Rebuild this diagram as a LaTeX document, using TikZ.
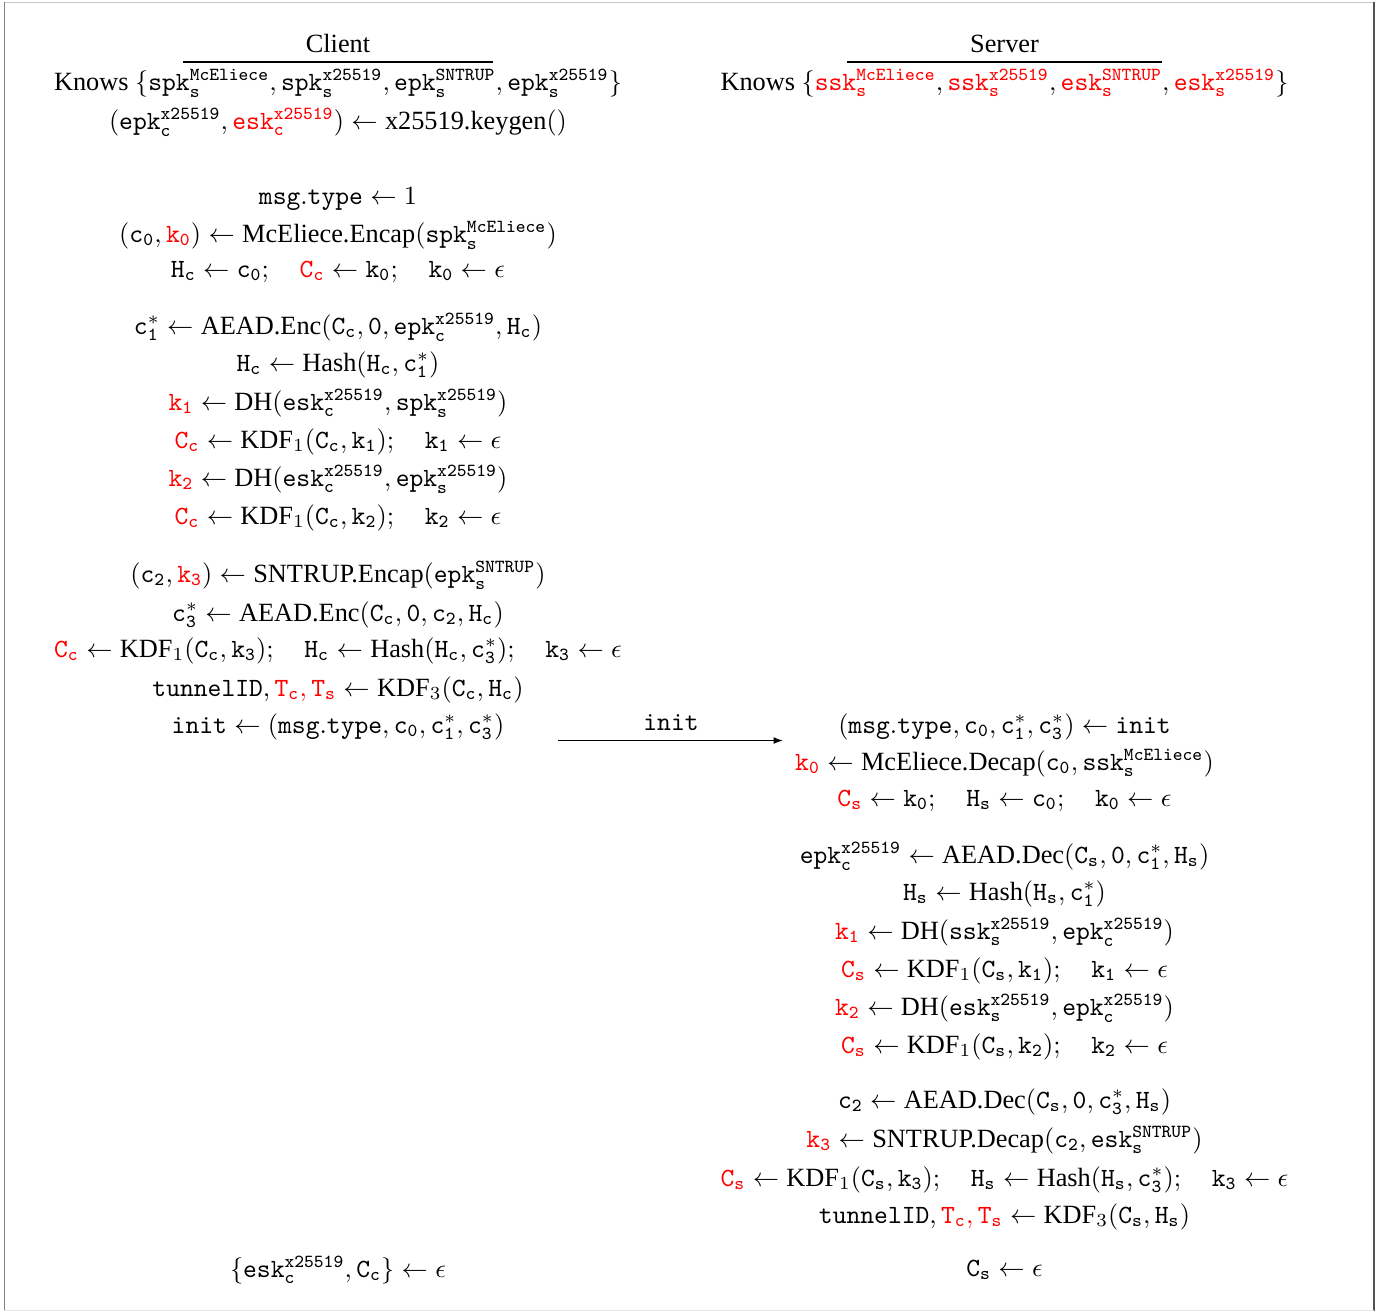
\documentclass[tikz,border=0pt]{standalone}
\usepackage{amsmath}
\usepackage{fontspec}
\setmainfont{Liberation Serif}
\usetikzlibrary{arrows.meta}
\newcommand{\tv}[1]{\mathtt{#1}}
\newcommand{\rd}[1]{\textcolor{red}{#1}}
\newcommand{\lar}{\leftarrow}
\tikzset{
  ln/.style={anchor=base, inner sep=0pt, outer sep=0pt},
  hdrule/.style={line width=0.45pt, black},
  msgarrow/.style={line width=0.45pt, -{Latex[length=3.6pt,width=2.6pt]}},
}
\begin{document}
\begin{tikzpicture}[x=0.38pt,y=-0.38pt]
\useasboundingbox (0,0) rectangle (1390,1311);
% page frame
\draw[line width=0.5pt, color=black!22] (4,2.3) -- (1374,2.3);
\draw[line width=0.6pt, color=black!50] (4.3,2) -- (4.3,1311);
\draw[line width=0.8pt, color=black!68] (1374,2) -- (1374,1311);
\draw[line width=0.4pt, color=black!10] (4,1310) -- (1374,1310);

% headers
\node[ln] (chead) at (338,52) {Client};
\node[ln] (shead) at (1004.5,52) {Server};
\coordinate (cr1) at (183,62); \coordinate (cr2) at (493,62);
\coordinate (sr1) at (847,62); \coordinate (sr2) at (1162,62);
\draw[hdrule] (cr1) -- (cr2);
\draw[hdrule] (sr1) -- (sr2);

% client column
\node[ln] (c1) at (338,90) {Knows $\{\tv{spk}_\tv{s}^\tv{McEliece}, \tv{spk}_\tv{s}^\tv{x25519}, \tv{epk}_\tv{s}^\tv{SNTRUP}, \tv{epk}_\tv{s}^\tv{x25519}\}$};
\node[ln] (c2) at (338,129) {$(\tv{epk}_\tv{c}^\tv{x25519}, \rd{\tv{esk}_\tv{c}^\tv{x25519}}) \lar \text{x25519.keygen}()$};
\node[ln] (c3) at (338,204) {$\tv{msg.type} \lar 1$};
\node[ln] (c4) at (338,242) {$(\tv{c}_\tv{0}, \rd{\tv{k}_\tv{0}}) \lar \text{McEliece.Encap}(\tv{spk}_\tv{s}^\tv{McEliece})$};
\node[ln] (c5) at (338,277) {$\tv{H}_\tv{c} \lar \tv{c}_\tv{0};\quad \rd{\tv{C}_\tv{c}} \lar \tv{k}_\tv{0};\quad \tv{k}_\tv{0} \lar \epsilon$};
\node[ln] (c6) at (338,334) {$\tv{c}_\tv{1}^* \lar \text{AEAD.Enc}(\tv{C}_\tv{c}, \tv{0}, \tv{epk}_\tv{c}^\tv{x25519}, \tv{H}_\tv{c})$};
\node[ln] (c7) at (338,371) {$\tv{H}_\tv{c} \lar \text{Hash}(\tv{H}_\tv{c}, \tv{c}_\tv{1}^*)$};
\node[ln] (c8) at (338,410) {$\rd{\tv{k}_\tv{1}} \lar \text{DH}(\tv{esk}_\tv{c}^\tv{x25519}, \tv{spk}_\tv{s}^\tv{x25519})$};
\node[ln] (c9) at (338,448) {$\rd{\tv{C}_\tv{c}} \lar \text{KDF}_1(\tv{C}_\tv{c}, \tv{k}_\tv{1});\quad \tv{k}_\tv{1} \lar \epsilon$};
\node[ln] (c10) at (338,486) {$\rd{\tv{k}_\tv{2}} \lar \text{DH}(\tv{esk}_\tv{c}^\tv{x25519}, \tv{epk}_\tv{s}^\tv{x25519})$};
\node[ln] (c11) at (338,524) {$\rd{\tv{C}_\tv{c}} \lar \text{KDF}_1(\tv{C}_\tv{c}, \tv{k}_\tv{2});\quad \tv{k}_\tv{2} \lar \epsilon$};
\node[ln] (c12) at (338,582) {$(\tv{c}_\tv{2}, \rd{\tv{k}_\tv{3}}) \lar \text{SNTRUP.Encap}(\tv{epk}_\tv{s}^\tv{SNTRUP})$};
\node[ln] (c13) at (338,621) {$\tv{c}_\tv{3}^* \lar \text{AEAD.Enc}(\tv{C}_\tv{c}, \tv{0}, \tv{c}_\tv{2}, \tv{H}_\tv{c})$};
\node[ln] (c14) at (338,657) {$\rd{\tv{C}_\tv{c}} \lar \text{KDF}_1(\tv{C}_\tv{c}, \tv{k}_\tv{3});\quad \tv{H}_\tv{c} \lar \text{Hash}(\tv{H}_\tv{c}, \tv{c}_\tv{3}^*);\quad \tv{k}_\tv{3} \lar \epsilon$};
\node[ln] (c15) at (338,696) {$\tv{tunnelID}, \rd{\tv{T}_\tv{c}, \tv{T}_\tv{s}} \lar \text{KDF}_3(\tv{C}_\tv{c}, \tv{H}_\tv{c})$};
\node[ln] (c16) at (338,733) {$\tv{init} \lar (\tv{msg.type}, \tv{c}_\tv{0}, \tv{c}_\tv{1}^*, \tv{c}_\tv{3}^*)$};
\node[ln] (c17) at (338,1277) {$\{\tv{esk}_\tv{c}^\tv{x25519}, \tv{C}_\tv{c}\} \lar \epsilon$};

% message
\coordinate (m1) at (558,740.5);
\coordinate (m2) at (783,740.5);
\draw[msgarrow] (m1) -- (m2);
\node[ln] (mlbl) at (671,730) {$\tv{init}$};

% server column
\node[ln] (s1) at (1004.5,90) {Knows $\{\rd{\tv{ssk}_\tv{s}^\tv{McEliece}}, \rd{\tv{ssk}_\tv{s}^\tv{x25519}}, \rd{\tv{esk}_\tv{s}^\tv{SNTRUP}}, \rd{\tv{esk}_\tv{s}^\tv{x25519}}\}$};
\node[ln] (s2) at (1004.5,733) {$(\tv{msg.type}, \tv{c}_\tv{0}, \tv{c}_\tv{1}^*, \tv{c}_\tv{3}^*) \lar \tv{init}$};
\node[ln] (s3) at (1004.5,770) {$\rd{\tv{k}_\tv{0}} \lar \text{McEliece.Decap}(\tv{c}_\tv{0}, \tv{ssk}_\tv{s}^\tv{McEliece})$};
\node[ln] (s4) at (1004.5,806) {$\rd{\tv{C}_\tv{s}} \lar \tv{k}_\tv{0};\quad \tv{H}_\tv{s} \lar \tv{c}_\tv{0};\quad \tv{k}_\tv{0} \lar \epsilon$};
\node[ln] (s5) at (1004.5,863) {$\tv{epk}_\tv{c}^\tv{x25519} \lar \text{AEAD.Dec}(\tv{C}_\tv{s}, \tv{0}, \tv{c}_\tv{1}^*, \tv{H}_\tv{s})$};
\node[ln] (s6) at (1004.5,900) {$\tv{H}_\tv{s} \lar \text{Hash}(\tv{H}_\tv{s}, \tv{c}_\tv{1}^*)$};
\node[ln] (s7) at (1004.5,939) {$\rd{\tv{k}_\tv{1}} \lar \text{DH}(\tv{ssk}_\tv{s}^\tv{x25519}, \tv{epk}_\tv{c}^\tv{x25519})$};
\node[ln] (s8) at (1004.5,977) {$\rd{\tv{C}_\tv{s}} \lar \text{KDF}_1(\tv{C}_\tv{s}, \tv{k}_\tv{1});\quad \tv{k}_\tv{1} \lar \epsilon$};
\node[ln] (s9) at (1004.5,1015) {$\rd{\tv{k}_\tv{2}} \lar \text{DH}(\tv{esk}_\tv{s}^\tv{x25519}, \tv{epk}_\tv{c}^\tv{x25519})$};
\node[ln] (s10) at (1004.5,1053) {$\rd{\tv{C}_\tv{s}} \lar \text{KDF}_1(\tv{C}_\tv{s}, \tv{k}_\tv{2});\quad \tv{k}_\tv{2} \lar \epsilon$};
\node[ln] (s11) at (1004.5,1108) {$\tv{c}_\tv{2} \lar \text{AEAD.Dec}(\tv{C}_\tv{s}, \tv{0}, \tv{c}_\tv{3}^*, \tv{H}_\tv{s})$};
\node[ln] (s12) at (1004.5,1147) {$\rd{\tv{k}_\tv{3}} \lar \text{SNTRUP.Decap}(\tv{c}_\tv{2}, \tv{esk}_\tv{s}^\tv{SNTRUP})$};
\node[ln] (s13) at (1004.5,1186) {$\rd{\tv{C}_\tv{s}} \lar \text{KDF}_1(\tv{C}_\tv{s}, \tv{k}_\tv{3});\quad \tv{H}_\tv{s} \lar \text{Hash}(\tv{H}_\tv{s}, \tv{c}_\tv{3}^*);\quad \tv{k}_\tv{3} \lar \epsilon$};
\node[ln] (s14) at (1004.5,1223) {$\tv{tunnelID}, \rd{\tv{T}_\tv{c}, \tv{T}_\tv{s}} \lar \text{KDF}_3(\tv{C}_\tv{s}, \tv{H}_\tv{s})$};
\node[ln] (s15) at (1004.5,1276) {$\tv{C}_\tv{s} \lar \epsilon$};
\end{tikzpicture}
\end{document}
